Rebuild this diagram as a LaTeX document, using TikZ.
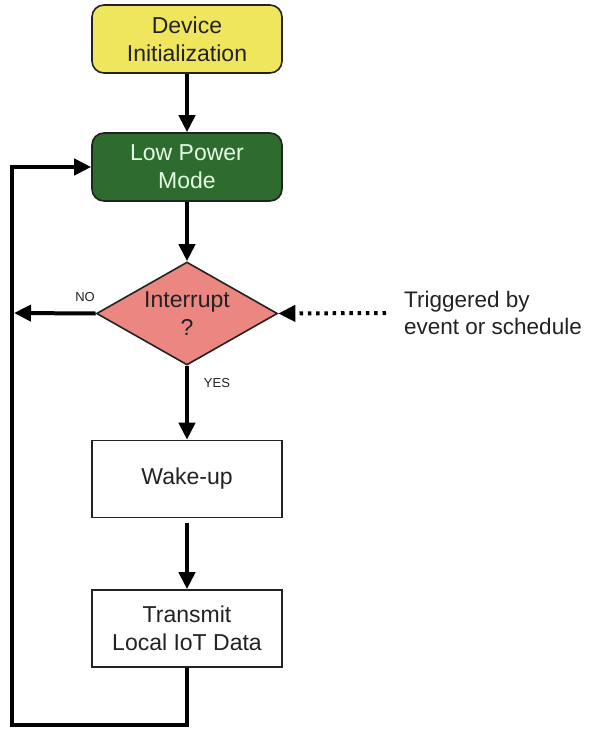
\documentclass[tikz,border=0pt]{standalone}
\usepackage{fontspec}
\setmainfont{Liberation Sans}
\usetikzlibrary{arrows.meta,shapes.geometric}

\definecolor{inityellow}{HTML}{F0E65E}
\definecolor{lowgreen}{HTML}{2E6B2E}
\definecolor{intsalmon}{HTML}{EC8680}
\definecolor{inkgray}{HTML}{222222}

\begin{document}
\begin{tikzpicture}[x=1pt, y=1pt,
		box/.style={draw=inkgray, line width=1.6pt, minimum width=190pt, text=inkgray, align=center, inner sep=0pt, font=\fontsize{23}{28}\selectfont},
		roundbox/.style={box, rounded corners=12pt, minimum height=68pt},
		plainbox/.style={box, fill=white, minimum height=77pt},
		decide/.style={diamond, draw=inkgray, line width=1.6pt, fill=intsalmon, aspect=1.75, inner sep=0pt, minimum width=181pt, minimum height=103pt, text=inkgray, align=center, font=\fontsize{23}{28}\selectfont},
		arr/.style={line width=4pt, -{Triangle[length=17pt,width=16pt]}},
		dotarr/.style={arr, dash pattern=on 3.5pt off 4.8pt},
		tag/.style={font=\fontsize{13}{15}\selectfont, text=inkgray}]
		%%%%% START %%%%%
		
		\useasboundingbox (0, 0) rectangle (589, -731);
		
		\node[roundbox, fill=inityellow] (init) at (187, -39) {Device\\Initialization};
		\node[roundbox, fill=lowgreen, text=white!90!green] (lpm) at (187, -167) {Low Power\\Mode};
		\node[decide] (intr) at (187, -313.5) {Interrupt\\?};
		\node[plainbox] (wake) at (187, -479) {Wake-up};
		\node[plainbox] (tx) at (187, -628.5) {Transmit\\Local IoT Data};
		
		\node[tag] (lno) at (85, -297) {NO};
		\node[tag] (lyes) at (217, -383) {YES};
		\node[anchor=west, align=left, inner sep=0pt, text=inkgray, font=\fontsize{22.5}{27.5}\selectfont] (trig) at (404, -313) {Triggered by\\event or schedule};
		
		\coordinate (noend) at (14, -313);
		\coordinate (loopbl) at (12, -725);
		\coordinate (trigstart) at (386, -313);
		
		\draw[arr] (init) -- (lpm);
		\draw[arr] (lpm) -- (intr);
		\draw[arr] (intr) -- (wake);
		\draw[arr, shorten <=5pt] (wake) -- (tx);
		\draw[arr] (intr.west) -- (noend);
		\draw[dotarr] (trigstart) -- (intr.east);
		\draw[arr] (tx.south) |- (loopbl) |- (lpm.west);
		
		%%%%% END %%%%%
\end{tikzpicture}
\end{document}
